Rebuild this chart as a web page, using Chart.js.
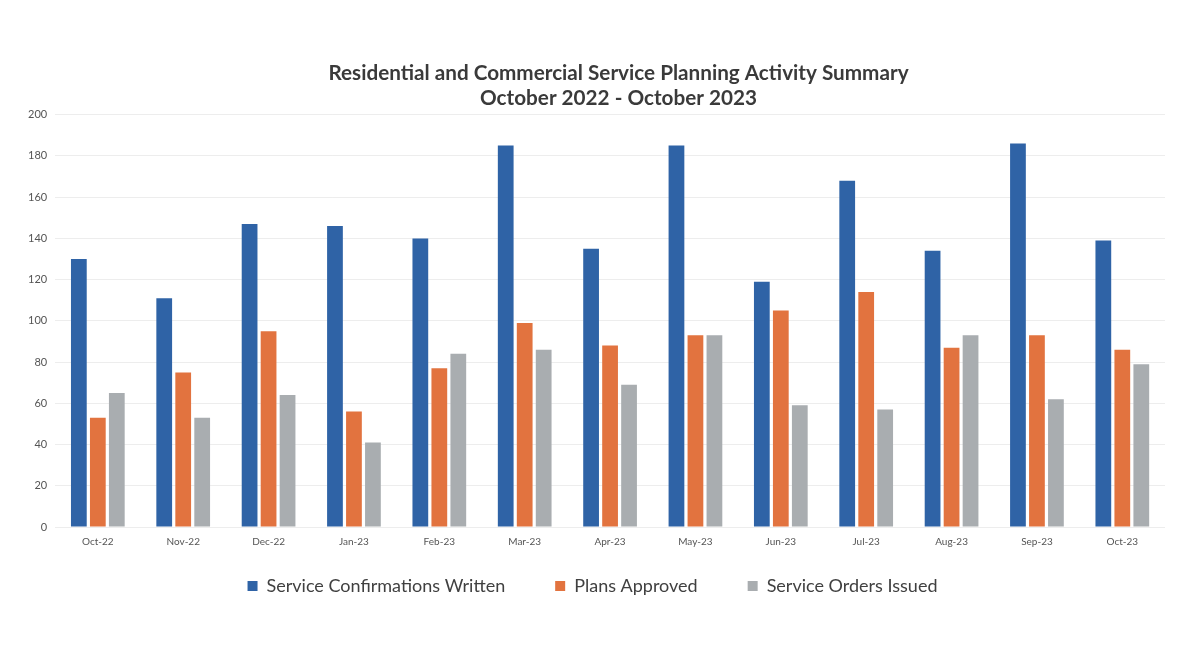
<!DOCTYPE html>
<html lang="en">
<head>
    <meta charset="UTF-8">
    <title>Service Planning Activity Summary</title>
    <script src="https://cdn.jsdelivr.net/npm/chart.js"></script>
    <style>
        html, body {
            margin: 0;
            padding: 0;
            background: #ffffff;
        }
        .chart-container {
            position: relative;
            width: 1181px;
            height: 671px;
        }
    </style>
</head>
<body>
    <div class="chart-container">
        <canvas id="activityChart"></canvas>
    </div>

    <script>
        // Months of the reporting period
        const months = ['Oct-22', 'Nov-22', 'Dec-22', 'Jan-23', 'Feb-23', 'Mar-23', 'Apr-23',
                        'May-23', 'Jun-23', 'Jul-23', 'Aug-23', 'Sep-23', 'Oct-23'];

        // Monthly counts per activity
        const confirmationsWritten = [130, 111, 147, 146, 140, 185, 135, 185, 119, 168, 134, 186, 139];
        const plansApproved        = [53, 75, 95, 56, 77, 99, 88, 93, 105, 114, 87, 93, 86];
        const ordersIssued         = [65, 53, 64, 41, 84, 86, 69, 93, 59, 57, 93, 62, 79];

        const yTicks = [0, 20, 40, 60, 80, 100, 120, 140, 160, 180, 200];

        const fontFamily = 'Lato, "Open Sans", sans-serif';

        // Legend padding also sets the gap between items, which is wide here,
        // so pull the legend row up afterwards; the title sits a bit right of centre.
        const nudgeBlocks = {
            id: 'nudgeBlocks',
            afterLayout(chart) {
                const legend = chart.legend;
                legend.top -= 30;
                legend.bottom -= 30;
                const title = chart.titleBlock;
                title.left += 26;
                title.right += 26;
            }
        };

        const ctx = document.getElementById('activityChart').getContext('2d');
        const activityChart = new Chart(ctx, {
            type: 'bar',
            data: {
                labels: months,
                datasets: [
                    {
                        label: 'Service Confirmations Written',
                        data: confirmationsWritten,
                        backgroundColor: '#2f63a6'
                    },
                    {
                        label: 'Plans Approved',
                        data: plansApproved,
                        backgroundColor: '#e2733f'
                    },
                    {
                        label: 'Service Orders Issued',
                        data: ordersIssued,
                        backgroundColor: '#a9adb0'
                    }
                ]
            },
            options: {
                responsive: true,
                maintainAspectRatio: false,
                animation: false,
                categoryPercentage: 0.667,
                barPercentage: 0.83,
                layout: {
                    padding: { left: 20, right: 16, top: 10, bottom: 36 }
                },
                scales: {
                    x: {
                        grid: { display: false, drawTicks: false },
                        border: { display: false },
                        ticks: {
                            color: '#555555',
                            font: { family: fontFamily, size: 10 },
                            padding: 9
                        }
                    },
                    y: {
                        min: 0,
                        max: 200,
                        afterBuildTicks: axis => {
                            axis.ticks = yTicks.map(v => ({ value: v }));
                        },
                        grid: {
                            color: 'rgba(0, 0, 0, 0.07)',
                            drawTicks: false
                        },
                        border: { display: false },
                        ticks: {
                            color: '#555555',
                            font: { family: fontFamily, size: 11 },
                            padding: 8
                        }
                    }
                },
                plugins: {
                    title: {
                        display: true,
                        text: ['Residential and Commercial Service Planning Activity Summary',
                               'October 2022 - October 2023'],
                        color: '#3a3a3a',
                        font: { family: fontFamily, size: 20.7, weight: 'bold', lineHeight: 1.2 },
                        padding: { top: 51, bottom: 4 }
                    },
                    legend: {
                        position: 'bottom',
                        labels: {
                            color: '#404040',
                            font: { family: fontFamily, size: 18 },
                            boxWidth: 10,
                            boxHeight: 10,
                            padding: 50
                        }
                    },
                    tooltip: { enabled: false }
                }
            },
            plugins: [nudgeBlocks]
        });
    </script>
</body>
</html>
